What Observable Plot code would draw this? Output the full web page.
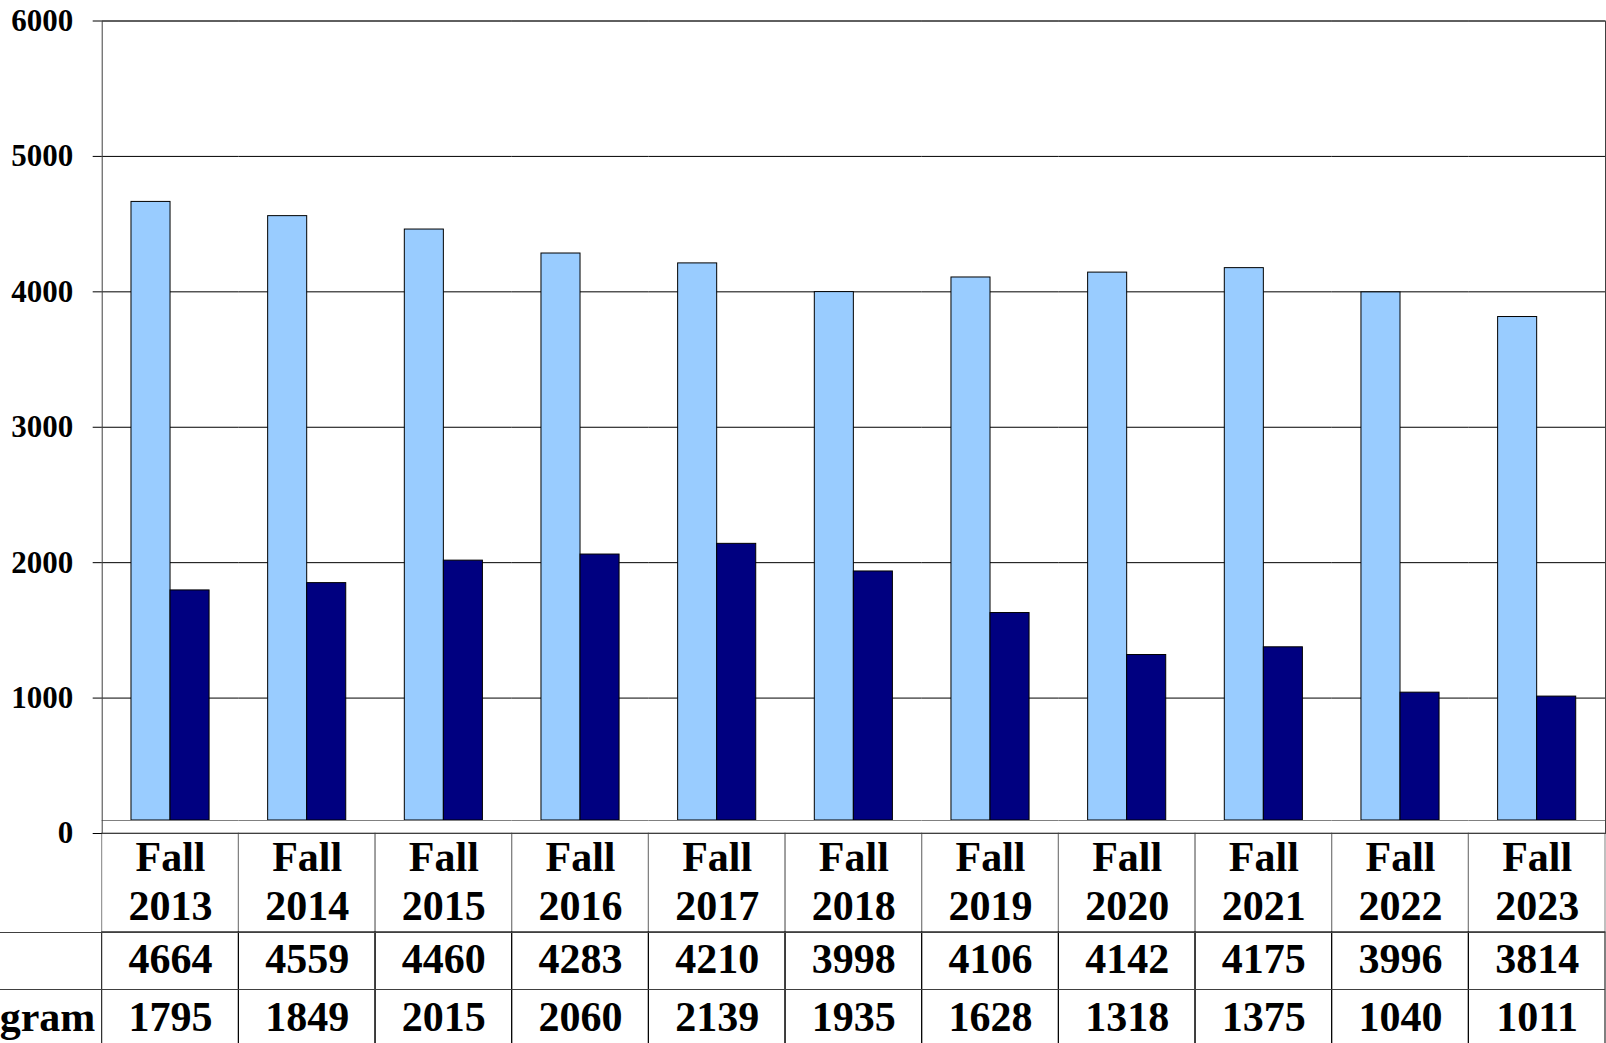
<!DOCTYPE html>
<html><head><meta charset="utf-8">
<script src="https://cdn.jsdelivr.net/npm/d3@7"></script>
<script src="https://cdn.jsdelivr.net/npm/@observablehq/plot@0.6"></script>
<style>
html,body{margin:0;padding:0;background:#fff;overflow:hidden;}
#chart{position:absolute;left:0;top:0;}
</style></head><body><div id="chart"></div>
<script>
const years = ["Fall 2013","Fall 2014","Fall 2015","Fall 2016","Fall 2017","Fall 2018","Fall 2019","Fall 2020","Fall 2021","Fall 2022","Fall 2023"];
const seriesNames = ["Total Students", "Enrolled in Program"];
const totals = [4664, 4559, 4460, 4283, 4210, 3998, 4106, 4142, 4175, 3996, 3814];
const program = [1795, 1849, 2015, 2060, 2139, 1935, 1628, 1318, 1375, 1040, 1011];
const yTicks = [0, 1000, 2000, 3000, 4000, 5000, 6000];
const seriesColors = ["#99CCFF", "#000080"];

const rows = years.flatMap((yr, i) => [
  {year: yr, series: seriesNames[0], value: totals[i]},
  {year: yr, series: seriesNames[1], value: program[i]}
]);

const W = 1606, H = 1043;
const mL = 101.7, mR = 1, mT = 20.5, mB = 210;
const gap = 13;          // plot-area bottom sits above the zero/table line
const headerH = 99, rowH = 57;
const tableFont = 42;
const labelStart = -277; // row labels are left-aligned in a column that starts off-page

const chart = Plot.plot({
  width: W, height: H,
  marginLeft: mL, marginRight: mR, marginTop: mT, marginBottom: mB,
  style: {fontFamily: "'Liberation Serif','Times New Roman',serif", fontWeight: "bold", fontSize: "31px", color: "black", background: "white", overflow: "visible"},
  fx: {domain: years, padding: 0, round: false, axis: null, label: null},
  x: {domain: seriesNames, paddingInner: 0, paddingOuter: 0.75, round: false, axis: null, label: null},
  y: {domain: [0, 6000], axis: null},
  color: {domain: seriesNames, range: seriesColors},
  marks: [
    Plot.gridY(yTicks.filter(t => t > 0), {stroke: "black", strokeOpacity: 1, strokeWidth: 1}),
    // table header cells
    Plot.rect(years, {fx: d => d, y1: 0, y2: 0, insetBottom: -headerH, fill: "none", stroke: "#808080"}),
    // table data cells
    Plot.rect(years, {fx: d => d, y1: 0, y2: 0, insetTop: headerH, insetBottom: -(headerH + 2 * rowH + 30), fill: "none", stroke: "black"}),
    // bars
    Plot.barY(rows, {fx: "year", x: "series", y: "value", fill: "series", stroke: "black", strokeWidth: 1, insetBottom: gap}),
    // plot-area bottom
    Plot.ruleY([0], {stroke: "#808080", dy: -gap}),
    // table top
    Plot.ruleY([0], {stroke: "black"}),
    // table row lines
    Plot.ruleY([0], {stroke: "#404040", dy: headerH, insetLeft: -mL}),
    Plot.ruleY([0], {stroke: "#404040", dy: headerH + rowH, insetLeft: -mL}),
    // outer frame of plot area
    Plot.frame({facet: "super", stroke: "#404040"}),
    Plot.axisY(yTicks, {tickSize: 9, tickPadding: 20, label: null, fontSize: 31, tickFormat: d => String(d)}),
    // header text
    Plot.text(years, {fx: d => d, text: d => d.replace(" ", "\n"), frameAnchor: "bottom", lineAnchor: "middle", dy: 46, lineHeight: 49 / tableFont, fontSize: tableFont}),
    // data rows
    Plot.text(rows.filter(d => d.series === seriesNames[0]), {fx: "year", text: d => String(d.value), frameAnchor: "bottom", lineAnchor: "middle", dy: 126, fontSize: tableFont}),
    Plot.text(rows.filter(d => d.series === seriesNames[1]), {fx: "year", text: d => String(d.value), frameAnchor: "bottom", lineAnchor: "middle", dy: 184, fontSize: tableFont}),
    // row labels (left-aligned, their column starts left of the page)
    Plot.text([seriesNames[0]], {fx: () => years[0], text: d => d, frameAnchor: "bottom-left", textAnchor: "start", lineAnchor: "middle", dx: labelStart - mL, dy: 126, fontSize: tableFont}),
    Plot.text([seriesNames[1]], {fx: () => years[0], text: d => d, frameAnchor: "bottom-left", textAnchor: "start", lineAnchor: "middle", dx: labelStart - mL, dy: 184, fontSize: tableFont})
  ]
});
document.getElementById("chart").appendChild(chart);
</script>
</body></html>
